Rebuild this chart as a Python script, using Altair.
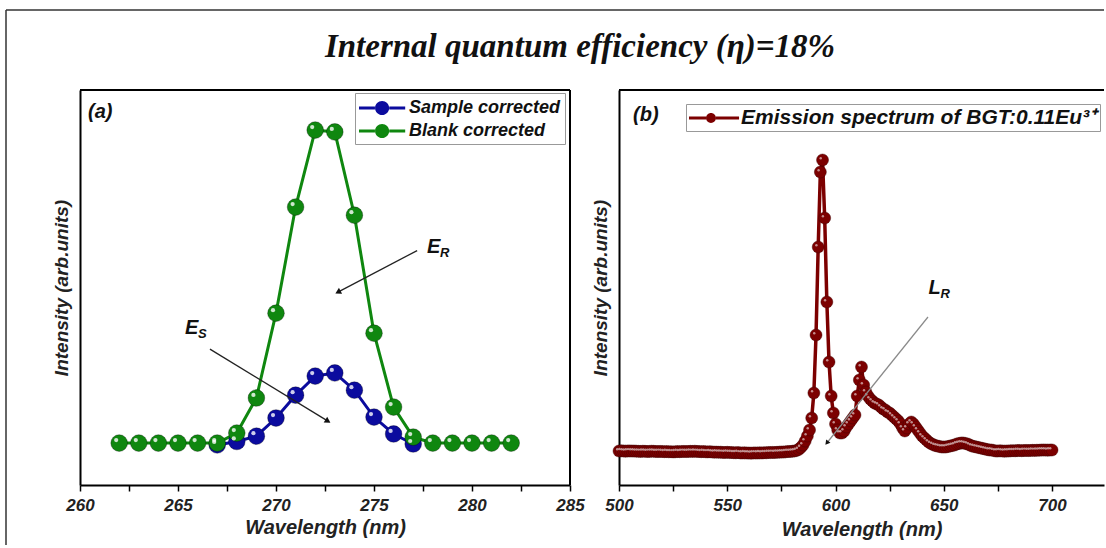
import math
import altair as alt
import pandas as pd

CHART_TITLE = "Internal quantum efficiency (η)=18%"

# ---------------- panel (a) data ----------------
wl_blank = [262, 263, 264, 265, 266, 267, 268, 269, 270, 271, 272,
            273, 274, 275, 276, 277, 278, 279, 280, 281, 282]
blank_vals = [0, 0, 0, 0, 0, 0, 3.2, 14.4, 41.5, 75.4, 100.0,
              99.4, 72.8, 35.1, 11.5, 1.9, 0, 0, 0, 0, 0]
wl_sample = [267, 268, 269, 270, 271, 272, 273, 274, 275, 276, 277]
sample_vals = [-0.6, 0.5, 2.2, 8.0, 15.3, 21.4, 22.4, 16.9, 8.3, 2.9, -0.3]
series_a = ["Sample corrected", "Blank corrected"]
colors_a = ["#0b0b9e", "#0f870f"]
ticks_a = [260, 262.5, 265, 267.5, 270, 272.5, 275, 277.5, 280, 282.5, 285]

# annotation arrows / labels of panel (a), data coordinates
arr_a_x = [277.2, 266.63]
arr_a_y = [61.5, 30.0]
arr_a_x2 = [273.16, 272.65]
arr_a_y2 = [48.2, 7.0]
ann_a_main = ["E", "E"]
ann_a_sub = ["R", "S"]
ann_a_x = [277.7, 265.36]
ann_a_y = [62.6, 36.7]
tag_a = ["(a)"]
tag_a_x = [260.41]
tag_a_y = [105.8]

# ---------------- panel (b) data ----------------
wl_b = list(range(500, 701))
emission = [
    1.0, 1.2, 1.0, 0.8, 1.0, 1.1, 0.9, 1.0, 0.8, 0.7,
    0.6, 0.8, 0.7, 0.5, 0.6, 0.8, 0.7, 0.5, 0.4, 0.6,
    0.5, 0.3, 0.4, 0.2, 0.3, 0.1, 0.2, 0.4, 0.3, 0.5,
    0.6, 0.4, 0.5, 0.7, 0.6, 0.8, 0.6, 0.5, 0.3, 0.4,
    0.2, 0.1, 0.3, 0.0, -0.2, -0.1, -0.3, -0.2, -0.4, -0.5,
    -0.3, -0.6, -0.5, -0.7, -0.8, -0.6, -0.9, -1.0, -0.8, -1.1,
    -1.0, -1.2, -1.0, -0.9, -1.1, -0.8, -1.0, -0.7, -0.8, -0.5,
    -0.6, -0.4, -0.5, -0.3, -0.2, 0.0, -0.1, 0.2, 0.4, 0.5,
    0.7, 1.0, 1.5, 2.5, 4.5, 7, 11, 16, 22, 34,
    59, 117, 205, 280, 292, 234, 150, 90, 56, 39,
    28, 22, 19, 19, 21, 25, 28, 31, 34, 37,
    56, 72, 85, 67, 60, 56, 53, 51, 49, 48,
    47, 45, 43, 42, 40, 39, 37, 35, 33, 31,
    28, 24, 21, 24, 28, 30, 28, 25, 22, 19,
    16, 14, 12, 10, 8.5, 7.5, 6.5, 6, 5.5, 5,
    5, 5, 5.5, 6, 6.5, 7, 8, 8.5, 9, 9,
    8.5, 8, 7, 6, 5.5, 5, 4.5, 4, 3.5, 3,
    2.5, 2, 2, 1.5, 1, 1, 1.2, 1, 0.8, 1,
    1, 1.2, 1.3, 1.2, 1.4, 1.5, 1.3, 1.5, 1.6, 1.4,
    1.5, 1.7, 1.6, 1.8, 1.7, 2, 1.9, 2, 1.8, 2,
    2,
]
series_b = ["Emission spectrum of BGT:0.11Eu³⁺"]
color_b = ["#7c0000"]
ticks_b = [500, 525, 550, 575, 600, 625, 650, 675, 700]

arr_b_x = [642.7]
arr_b_y = [135]
arr_b_x2 = [596]
arr_b_y2 = [9]
ann_b_main = ["L"]
ann_b_sub = ["R"]
ann_b_x = [642.9]
ann_b_y = [164]
tag_b = ["(b)"]
tag_b_x = [506.5]
tag_b_y = [337]

# ---------------- layout constants ----------------
WA, HA = 490, 395
WB, HB = 485, 395
XA, YA = [260, 285], [-13.4, 112.8]
XB, YB = [500, 724], [-33, 362]

FONT = "Liberation Sans"
SERIF = "Liberation Serif"


def head_angle(x1, y1, x2, y2, xd, yd, w, h):
    dx = (x2 - x1) * w / (xd[1] - xd[0])
    dy = -(y2 - y1) * h / (yd[1] - yd[0])
    return math.degrees(math.atan2(dy, dx)) % 360


def x_axis(values, mod, pad):
    return alt.Axis(values=values, labelExpr=f"datum.value % {mod} === 0 ? datum.label : ''",
                    labelFlush=False, labelOverlap=False, grid=False, tickSize=6,
                    labelPadding=6, labelFontSize=17, title="Wavelength (nm)",
                    titleFontSize=20, titlePadding=pad)


Y_AXIS = alt.Axis(labels=False, ticks=False, grid=False, title="Intensity (arb.units)",
                  titleFontSize=19, titlePadding=9)

one = pd.DataFrame({"k": [0]})

# ---------------- panel (a) ----------------
sa_x = alt.Scale(domain=XA, nice=False, zero=False)
sa_y = alt.Scale(domain=YA, nice=False, zero=False)
AXA = x_axis(ticks_a, 5, 4)


def ea(field):
    return alt.X(field, type="quantitative", scale=sa_x, axis=AXA)


def fa(field):
    return alt.Y(field, type="quantitative", scale=sa_y, axis=Y_AXIS)


df_sample = pd.DataFrame({"wl": wl_sample, "val": sample_vals, "series": series_a[0]})
df_blank = pd.DataFrame({"wl": wl_blank, "val": blank_vals, "series": series_a[1]})
df_all_a = pd.concat([df_sample, df_blank], ignore_index=True)

legend_path_a = ("M-1,-0.14H0.45V0.14H-1Z M1.75,-0.14H3.2V0.14H1.75Z "
                 "M0.46,0A0.64,0.64,0,1,1,1.74,0A0.64,0.64,0,1,1,0.46,0Z")
fill_a = alt.Fill("series:N", scale=alt.Scale(domain=series_a, range=colors_a),
                  legend=alt.Legend(title=None, orient="none", legendX=275, legendY=3,
                                    symbolType=legend_path_a, symbolSize=484,
                                    symbolStrokeWidth=0, labelOffset=28, labelLimit=400,
                                    labelFont=FONT, labelFontSize=18, labelFontStyle="italic",
                                    labelFontWeight="bold", labelColor="#111",
                                    strokeColor="#999", fillColor="white", padding=4,
                                    rowPadding=3, symbolOpacity=1))

line_sample = alt.Chart(df_sample).mark_line(strokeWidth=3, color=colors_a[0]).encode(
    x=ea("wl"), y=fa("val"))
line_blank = alt.Chart(df_blank).mark_line(strokeWidth=3, color=colors_a[1]).encode(
    x=ea("wl"), y=fa("val"))
pts_a = alt.Chart(df_all_a).mark_point(filled=True, size=280, stroke="black", strokeOpacity=0.3,
                                       strokeWidth=1, opacity=1).encode(
    x=ea("wl"), y=fa("val"), fill=fill_a)
hi_a = alt.Chart(df_all_a).mark_point(filled=True, color="white", size=18, opacity=0.8,
                                      xOffset=-3, yOffset=-3).encode(x=ea("wl"), y=fa("val"))

df_arr_a = pd.DataFrame({"x": arr_a_x, "y": arr_a_y, "x2": arr_a_x2, "y2": arr_a_y2})
arrows_a = alt.Chart(df_arr_a).mark_rule(color="#222", strokeWidth=1.3).encode(
    x=ea("x"), y=fa("y"), x2="x2", y2="y2")
heads_a = []
for i in range(len(arr_a_x)):
    ang = head_angle(arr_a_x[i], arr_a_y[i], arr_a_x2[i], arr_a_y2[i], XA, YA, WA, HA)
    dfh = pd.DataFrame({"x": [arr_a_x2[i]], "y": [arr_a_y2[i]]})
    heads_a.append(alt.Chart(dfh).mark_point(shape="triangle-right", filled=True, color="#111",
                                             size=45, angle=ang, opacity=1)
                   .encode(x=ea("x"), y=fa("y")))

df_ann_a = pd.DataFrame({"x": ann_a_x, "y": ann_a_y, "m": ann_a_main, "s": ann_a_sub})
ann_a_big = alt.Chart(df_ann_a).mark_text(font=FONT, fontSize=20, fontStyle="italic", fontWeight="bold",
                                          align="left", baseline="middle", color="#111").encode(
    x=ea("x"), y=fa("y"), text="m:N")
ann_a_small = alt.Chart(df_ann_a).mark_text(font=FONT, fontSize=13, fontStyle="italic", fontWeight="bold",
                                            align="left", baseline="middle", color="#111", dx=13, dy=6).encode(
    x=ea("x"), y=fa("y"), text="s:N")
df_tag_a = pd.DataFrame({"x": tag_a_x, "y": tag_a_y, "t": tag_a})
tag_a_txt = alt.Chart(df_tag_a).mark_text(font=FONT, fontSize=20, fontStyle="italic", fontWeight="bold",
                                          align="left", baseline="middle", color="#111").encode(
    x=ea("x"), y=fa("y"), text="t:N")

frame_left = alt.Chart(one).mark_rule(color="#333", strokeWidth=1.5).encode(
    x=alt.value(-74), y=alt.value(-80), y2=alt.value(455))
frame_top = alt.Chart(one).mark_rule(color="#333", strokeWidth=1.5).encode(
    x=alt.value(-74), x2=alt.value(1024), y=alt.value(-80))
title_txt = alt.Chart(one).mark_text(font=SERIF, fontSize=33, fontStyle="italic", fontWeight="bold",
                                     color="#111", align="center", baseline="middle").encode(
    x=alt.value(500), y=alt.value(-43), text=alt.value(CHART_TITLE))
a_top = alt.Chart(one).mark_rule(color="black", strokeWidth=2).encode(
    x=alt.value(0), x2=alt.value(WA), y=alt.value(0))
a_right = alt.Chart(one).mark_rule(color="black", strokeWidth=2).encode(
    x=alt.value(WA), y=alt.value(0), y2=alt.value(HA))

panel_a = alt.layer(
    line_sample, line_blank, pts_a, hi_a,
    arrows_a, *heads_a, ann_a_big, ann_a_small, tag_a_txt,
    a_top, a_right, frame_left, frame_top, title_txt,
).properties(width=WA, height=HA)

# ---------------- panel (b) ----------------
sb_x = alt.Scale(domain=XB, nice=False, zero=False)
sb_y = alt.Scale(domain=YB, nice=False, zero=False)
AXB = x_axis(ticks_b, 50, 6)


def eb(field):
    return alt.X(field, type="quantitative", scale=sb_x, axis=AXB)


def fb(field):
    return alt.Y(field, type="quantitative", scale=sb_y, axis=Y_AXIS)


df_b = pd.DataFrame({"wl": wl_b, "val": emission, "series": series_b[0]})
legend_path_b = ("M-1,-0.14H0.55V0.14H-1Z M1.45,-0.14H3.55V0.14H1.45Z "
                 "M0.55,0A0.45,0.45,0,1,1,1.45,0A0.45,0.45,0,1,1,0.55,0Z")
fill_b = alt.Fill("series:N", scale=alt.Scale(domain=series_b, range=color_b),
                  legend=alt.Legend(title=None, orient="none", legendX=67, legendY=14,
                                    symbolType=legend_path_b, symbolSize=484,
                                    symbolStrokeWidth=0, labelOffset=30, labelLimit=600,
                                    labelFont=FONT, labelFontSize=21, labelFontStyle="italic",
                                    labelFontWeight="bold", labelColor="#111",
                                    strokeColor="#999", fillColor="white", padding=3,
                                    symbolOpacity=1))

line_b = alt.Chart(df_b).mark_line(strokeWidth=3.5, color=color_b[0]).encode(x=eb("wl"), y=fb("val"))
pts_b = alt.Chart(df_b).mark_point(filled=True, size=145, stroke="#3a0000", strokeOpacity=0.5,
                                   strokeWidth=0.8, opacity=1).encode(x=eb("wl"), y=fb("val"), fill=fill_b)
hi_b = alt.Chart(df_b).mark_point(filled=True, color="white", size=6, opacity=0.55,
                                  xOffset=-1.8, yOffset=-1.8).encode(x=eb("wl"), y=fb("val"))

df_arr_b = pd.DataFrame({"x": arr_b_x, "y": arr_b_y, "x2": arr_b_x2, "y2": arr_b_y2})
arrow_b = alt.Chart(df_arr_b).mark_rule(color="#8a8a8a", strokeWidth=1.2).encode(
    x=eb("x"), y=fb("y"), x2="x2", y2="y2")
ang_b = head_angle(arr_b_x[0], arr_b_y[0], arr_b_x2[0], arr_b_y2[0], XB, YB, WB, HB)
head_b = alt.Chart(pd.DataFrame({"x": arr_b_x2, "y": arr_b_y2})).mark_point(
    shape="triangle-right", filled=True, color="#111", size=30, angle=ang_b, opacity=1).encode(
    x=eb("x"), y=fb("y"))
df_ann_b = pd.DataFrame({"x": ann_b_x, "y": ann_b_y, "m": ann_b_main, "s": ann_b_sub})
ann_b_big = alt.Chart(df_ann_b).mark_text(font=FONT, fontSize=20, fontStyle="italic", fontWeight="bold",
                                          align="left", baseline="middle", color="#111").encode(
    x=eb("x"), y=fb("y"), text="m:N")
ann_b_small = alt.Chart(df_ann_b).mark_text(font=FONT, fontSize=13, fontStyle="italic", fontWeight="bold",
                                            align="left", baseline="middle", color="#111", dx=12, dy=6).encode(
    x=eb("x"), y=fb("y"), text="s:N")
df_tag_b = pd.DataFrame({"x": tag_b_x, "y": tag_b_y, "t": tag_b})
tag_b_txt = alt.Chart(df_tag_b).mark_text(font=FONT, fontSize=20, fontStyle="italic", fontWeight="bold",
                                          align="left", baseline="middle", color="#111").encode(
    x=eb("x"), y=fb("y"), text="t:N")
b_top = alt.Chart(one).mark_rule(color="black", strokeWidth=2).encode(
    x=alt.value(0), x2=alt.value(WB), y=alt.value(0))

panel_b = alt.layer(
    line_b, pts_b, hi_b, arrow_b, head_b, ann_b_big, ann_b_small, tag_b_txt, b_top,
).properties(width=WB, height=HB)

chart = (
    alt.hconcat(panel_a, panel_b, spacing=49, bounds="flush")
    .resolve_scale(fill="independent")
    .resolve_legend(fill="independent")
    .properties(padding={"left": 5, "top": 9, "right": 0, "bottom": 0}, background="white")
    .configure_view(strokeWidth=0)
    .configure_axis(domainColor="black", domainWidth=2, tickColor="black", tickWidth=1.5,
                    labelFont=FONT, labelFontStyle="italic", labelFontWeight="bold", labelColor="#222",
                    titleFont=FONT, titleFontStyle="italic", titleFontWeight="bold", titleColor="#222")
)

chart.save("out.html", embed_options={"renderer": "svg", "actions": False})
